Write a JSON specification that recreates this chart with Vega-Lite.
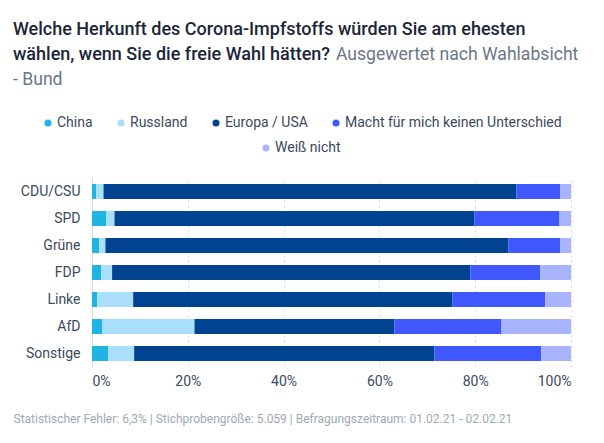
{
  "$schema": "https://vega.github.io/schema/vega-lite/v6.json",
  "width": 479,
  "height": 189,
  "autosize": {"type": "none"},
  "padding": {"left": 92, "top": 178, "right": 33, "bottom": 76},
  "background": "#ffffff",
  "title": {
    "text": ["Welche Herkunft des Corona-Impfstoffs würden Sie am ehesten", "wählen, wenn Sie die freie Wahl hätten?"],
    "subtitle": ["\u200b\u00a0\u00a0\u00a0\u00a0\u00a0\u00a0\u00a0\u00a0\u00a0\u00a0\u00a0\u00a0\u00a0\u00a0\u00a0\u00a0\u00a0\u00a0\u00a0\u00a0\u00a0\u00a0\u00a0\u00a0\u00a0\u00a0\u00a0\u00a0\u00a0\u00a0\u00a0\u00a0\u00a0\u00a0\u00a0\u00a0\u00a0\u00a0\u00a0\u00a0\u00a0\u00a0\u00a0\u00a0\u00a0\u00a0\u00a0\u00a0\u00a0\u00a0\u00a0\u00a0\u00a0\u00a0\u00a0\u00a0\u00a0\u00a0\u00a0\u00a0\u00a0\u00a0\u00a0\u00a0\u00a0\u00a0\u00a0\u00a0\u00a0\u00a0\u00a0\u00a0\u00a0\u00a0Ausgewertet nach Wahlabsicht", "- Bund"],
    "anchor": "start",
    "frame": "group",
    "dx": -79,
    "offset": 27,
    "font": "Roboto",
    "fontSize": 18,
    "fontWeight": 500,
    "lineHeight": 25,
    "color": "#1b2638",
    "subtitleFont": "Roboto",
    "subtitleFontSize": 17.6,
    "subtitleFontWeight": 400,
    "subtitleLineHeight": 25,
    "subtitleColor": "#6b7786",
    "subtitlePadding": -18
  },
  "data": {
    "values": [
      {"partei": "CDU/CSU", "herkunft": "China", "anteil": 0.9, "rang": 1},
      {"partei": "CDU/CSU", "herkunft": "Russland", "anteil": 1.5, "rang": 2},
      {"partei": "CDU/CSU", "herkunft": "Europa / USA", "anteil": 86.2, "rang": 3},
      {"partei": "CDU/CSU", "herkunft": "Macht für mich keinen Unterschied", "anteil": 9.2, "rang": 4},
      {"partei": "CDU/CSU", "herkunft": "Weiß nicht", "anteil": 2.2, "rang": 5},
      {"partei": "SPD", "herkunft": "China", "anteil": 3.0, "rang": 1},
      {"partei": "SPD", "herkunft": "Russland", "anteil": 1.7, "rang": 2},
      {"partei": "SPD", "herkunft": "Europa / USA", "anteil": 75.1, "rang": 3},
      {"partei": "SPD", "herkunft": "Macht für mich keinen Unterschied", "anteil": 17.8, "rang": 4},
      {"partei": "SPD", "herkunft": "Weiß nicht", "anteil": 2.4, "rang": 5},
      {"partei": "Grüne", "herkunft": "China", "anteil": 1.5, "rang": 1},
      {"partei": "Grüne", "herkunft": "Russland", "anteil": 1.3, "rang": 2},
      {"partei": "Grüne", "herkunft": "Europa / USA", "anteil": 84.1, "rang": 3},
      {"partei": "Grüne", "herkunft": "Macht für mich keinen Unterschied", "anteil": 10.9, "rang": 4},
      {"partei": "Grüne", "herkunft": "Weiß nicht", "anteil": 2.2, "rang": 5},
      {"partei": "FDP", "herkunft": "China", "anteil": 1.9, "rang": 1},
      {"partei": "FDP", "herkunft": "Russland", "anteil": 2.3, "rang": 2},
      {"partei": "FDP", "herkunft": "Europa / USA", "anteil": 74.8, "rang": 3},
      {"partei": "FDP", "herkunft": "Macht für mich keinen Unterschied", "anteil": 14.6, "rang": 4},
      {"partei": "FDP", "herkunft": "Weiß nicht", "anteil": 6.4, "rang": 5},
      {"partei": "Linke", "herkunft": "China", "anteil": 1.1, "rang": 1},
      {"partei": "Linke", "herkunft": "Russland", "anteil": 7.5, "rang": 2},
      {"partei": "Linke", "herkunft": "Europa / USA", "anteil": 66.6, "rang": 3},
      {"partei": "Linke", "herkunft": "Macht für mich keinen Unterschied", "anteil": 19.4, "rang": 4},
      {"partei": "Linke", "herkunft": "Weiß nicht", "anteil": 5.4, "rang": 5},
      {"partei": "AfD", "herkunft": "China", "anteil": 2.2, "rang": 1},
      {"partei": "AfD", "herkunft": "Russland", "anteil": 19.2, "rang": 2},
      {"partei": "AfD", "herkunft": "Europa / USA", "anteil": 41.7, "rang": 3},
      {"partei": "AfD", "herkunft": "Macht für mich keinen Unterschied", "anteil": 22.4, "rang": 4},
      {"partei": "AfD", "herkunft": "Weiß nicht", "anteil": 14.5, "rang": 5},
      {"partei": "Sonstige", "herkunft": "China", "anteil": 3.4, "rang": 1},
      {"partei": "Sonstige", "herkunft": "Russland", "anteil": 5.4, "rang": 2},
      {"partei": "Sonstige", "herkunft": "Europa / USA", "anteil": 62.7, "rang": 3},
      {"partei": "Sonstige", "herkunft": "Macht für mich keinen Unterschied", "anteil": 22.3, "rang": 4},
      {"partei": "Sonstige", "herkunft": "Weiß nicht", "anteil": 6.2, "rang": 5}
    ]
  },
  "transform": [
    {"stack": "anteil", "groupby": ["partei"], "sort": [{"field": "rang", "order": "ascending"}], "as": ["x0", "x1"]}
  ],
  "encoding": {
    "y": {
      "field": "partei",
      "type": "nominal",
      "sort": ["CDU/CSU", "SPD", "Grüne", "FDP", "Linke", "AfD", "Sonstige"],
      "scale": {"paddingInner": 0.444, "paddingOuter": 0.222},
      "axis": {
        "title": null,
        "ticks": false,
        "domain": true,
        "domainColor": "#d9dde2",
        "domainWidth": 1,
        "labelPadding": 12,
        "labelFont": "Roboto",
        "labelFontSize": 14,
        "labelColor": "#3b4a5c",
        "grid": false
      }
    },
    "x": {
      "field": "x0",
      "type": "quantitative",
      "scale": {"domain": [0, 100], "nice": false},
      "axis": {
        "title": "Statistischer Fehler: 6,3% | Stichprobengröße: 5.059 | Befragungszeitraum: 01.02.21 - 02.02.21",
        "titleX": -79,
        "titleY": 51,
        "titleAlign": "left",
        "titleAnchor": "start",
        "titleBaseline": "middle",
        "titleFont": "Roboto",
        "titleFontSize": 12,
        "titleFontWeight": 400,
        "titleColor": "#a2a9b2",
        "values": [0, 20, 40, 60, 80, 100],
        "labelExpr": "datum.value + '%'",
        "labelFont": "Roboto",
        "labelFontSize": 14,
        "labelColor": "#3b4a5c",
        "labelPadding": 7,
        "ticks": false,
        "domain": false,
        "grid": true,
        "gridColor": "#d5d9de",
        "gridDash": [2, 3],
        "gridWidth": 1
      }
    },
    "x2": {"field": "x1"}
  },
  "layer": [
    {
      "transform": [{"filter": "datum.rang < 5"}],
      "mark": {"type": "bar"},
      "encoding": {
        "color": {
          "field": "herkunft",
          "type": "nominal",
          "scale": {
            "domain": ["China", "Russland", "Europa / USA", "Macht für mich keinen Unterschied"],
            "range": ["#20b4e5", "#a9dff8", "#004390", "#3e57ff"]
          },
          "legend": {
            "title": null,
            "orient": "none",
            "direction": "horizontal",
            "legendX": -51,
            "legendY": -62,
            "symbolType": "circle",
            "symbolSize": 50,
            "symbolStrokeWidth": 0,
            "labelFont": "Roboto",
            "labelFontSize": 14,
            "labelColor": "#3b4a5c",
            "labelOffset": 2,
            "labelLimit": 400,
            "columnPadding": 21
          }
        }
      }
    },
    {
      "transform": [{"filter": "datum.rang == 5"}],
      "mark": {"type": "bar"},
      "encoding": {
        "fill": {
          "field": "herkunft",
          "type": "nominal",
          "scale": {"domain": ["Weiß nicht"], "range": ["#a8b5fe"]},
          "legend": {
            "title": null,
            "orient": "none",
            "direction": "horizontal",
            "legendX": 167,
            "legendY": -37,
            "symbolType": "circle",
            "symbolSize": 50,
            "symbolStrokeWidth": 0,
            "labelFont": "Roboto",
            "labelFontSize": 14,
            "labelColor": "#3b4a5c",
            "labelOffset": 2,
            "labelLimit": 400
          }
        }
      }
    }
  ],
  "config": {
    "view": {"stroke": null},
    "font": "Roboto"
  }
}
